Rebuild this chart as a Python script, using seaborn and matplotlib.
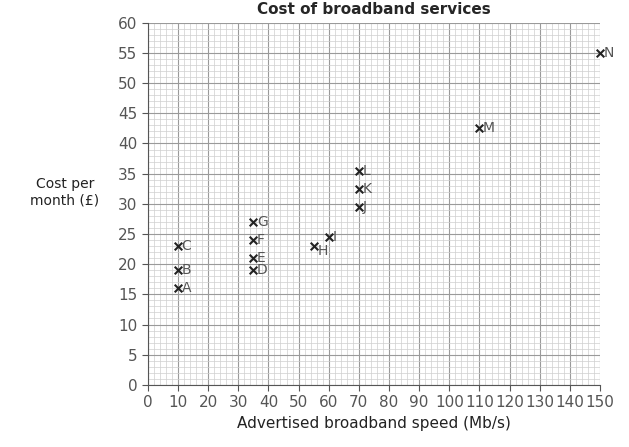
import matplotlib
matplotlib.use("Agg")
import matplotlib.pyplot as plt
import seaborn as sns
import pandas as pd
from matplotlib.ticker import MultipleLocator

labels = ["A","B","C","D","E","F","G","H","I","J","K","L","M","N"]
speed = [10,10,10,35,35,35,35,55,60,70,70,70,110,150]
cost = [16,19,23,19,21,24,27,23,24.5,29.5,32.5,35.5,42.5,55]
df = pd.DataFrame({"speed": speed, "cost": cost, "label": labels})

sns.set_style("white")
plt.rcParams['font.family'] = ['DejaVu Sans']
fig = plt.figure(figsize=(6.29, 4.47), dpi=100)
ax = fig.add_axes([0.235, 0.139, 0.719, 0.81])
ax.set_xlim(0, 150); ax.set_ylim(0, 60)
ax.xaxis.set_major_locator(MultipleLocator(10)); ax.xaxis.set_minor_locator(MultipleLocator(2))
ax.yaxis.set_major_locator(MultipleLocator(5)); ax.yaxis.set_minor_locator(MultipleLocator(1))
ax.grid(which="major", color="#9a9a9a", lw=0.8)
ax.grid(which="minor", color="#cfcfcf", lw=0.5)
ax.set_axisbelow(True)
for s in ["top", "right"]:
    ax.spines[s].set_visible(False)
for s in ["left", "bottom"]:
    ax.spines[s].set_color("#555555")
ax.tick_params(which="major", length=4, color="#555555", labelsize=11, labelcolor="#555555", left=True, bottom=True)
sns.scatterplot(data=df, x="speed", y="cost", marker="x", color="#222222", s=30, linewidth=1.5, ax=ax, clip_on=False, zorder=5)
for l, x, y in zip(labels, speed, cost):
    dy = -0.8 if l == "H" else 0
    ax.text(x + 1.2, y + dy, l, fontsize=10, va="center", ha="left", color="#555555")
ax.set_xlabel("Advertised broadband speed (Mb/s)", fontsize=11, color="#222222")
ax.set_ylabel("")
fig.text(0.103, 0.57, "Cost per\nmonth (£)", fontsize=10, ha="center", va="center", color="#222222")
ax.set_title("Cost of broadband services", fontsize=11, fontweight="bold", pad=6)
fig.savefig("out.png", dpi=100)
